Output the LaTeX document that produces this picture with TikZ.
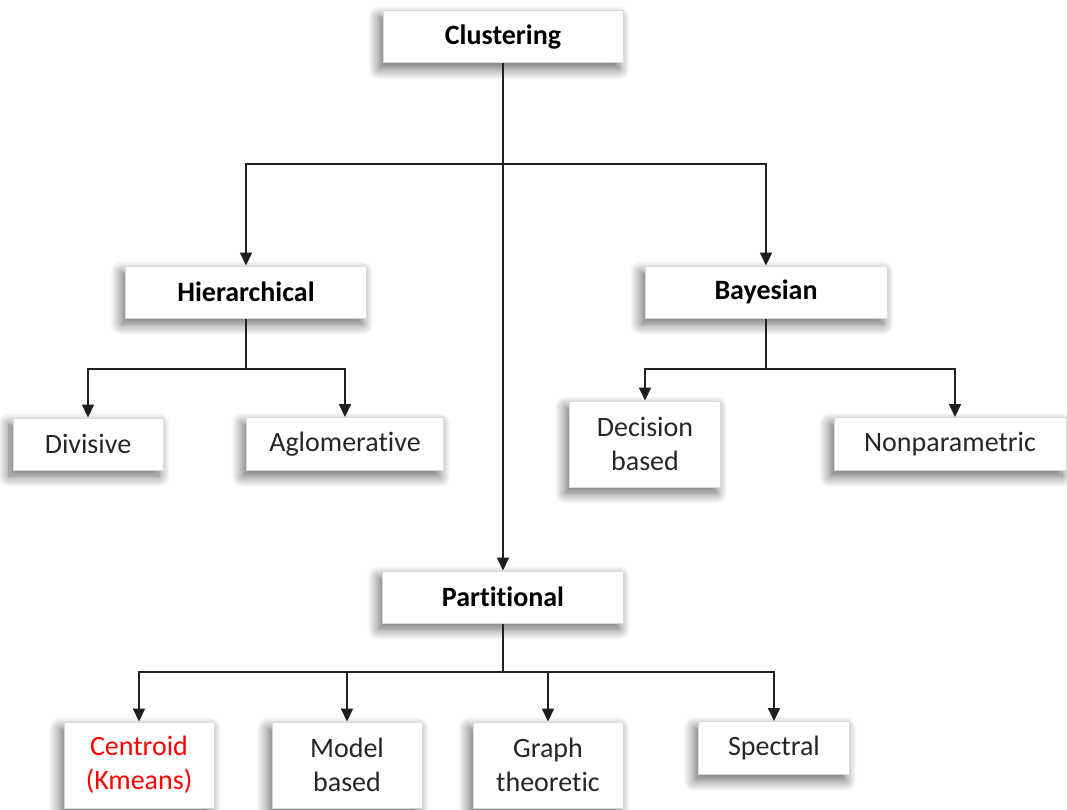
\documentclass[tikz,border=0pt]{standalone}
\usepackage{fontspec}
\setmainfont{Carlito}[Ligatures={NoCommon}]
\usetikzlibrary{arrows.meta,shadows.blur}

\tikzset{
  box/.style={draw=black!15, line width=1pt, fill=white, align=center,
    inner sep=0pt, text=black!85,
    font=\fontsize{28}{34}\selectfont,
    blur shadow={shadow xshift=-4pt, shadow yshift=-6pt,
      shadow blur radius=11pt, shadow blur steps=14, shadow opacity=60}},
  headbox/.style={box, font=\fontsize{28}{34}\selectfont\bfseries, text=black},
  wire/.style={draw=black!88, line width=2pt, line join=miter},
  feed/.style={wire, -{Triangle[width=12pt,length=13pt]}}
}

\begin{document}
\begin{tikzpicture}[x=1pt,y=-1pt]
  \useasboundingbox (0,0) rectangle (1067,810);

  % top level
  \node[headbox, minimum width=240pt, minimum height=52pt] (clus) at (503,37) {Clustering};

  % second level
  \node[headbox, minimum width=241pt, minimum height=52pt] (hier) at (246,292) {Hierarchical};
  \node[headbox, minimum width=242pt, minimum height=52pt] (bayes) at (766,292) {Bayesian};
  \node[headbox, minimum width=241pt, minimum height=52pt] (part) at (503,597) {Partitional};

  % hierarchical family
  \node[box, minimum width=150pt, minimum height=52pt] (div) at (88,444) {Divisive};
  \node[box, minimum width=197pt, minimum height=53pt] (aglo) at (345,444) {Aglomerative};

  % bayesian family
  \node[box, minimum width=151pt, minimum height=86pt] (dec) at (645,444) {Decision\\based};
  \node[box, minimum width=232pt, minimum height=53pt] (nonp) at (950,444) {Nonparametric};

  % partitional family
  \node[box, minimum width=150pt, minimum height=86pt, text=red] (cent) at (139,765) {Centroid\\(Kmeans)};
  \node[box, minimum width=150pt, minimum height=86pt] (model) at (347,765) {Model\\based};
  \node[box, minimum width=150pt, minimum height=86pt] (graph) at (548,765) {Graph\\theoretic};
  \node[box, minimum width=151pt, minimum height=53pt] (spec) at (774,748) {Spectral};

  % junction points of the tree
  \coordinate (j1) at (503,164);
  \coordinate (j2) at (246,369);
  \coordinate (j3) at (766,369);
  \coordinate (j4) at (503,672);

  % connectors
  \draw[wire] (clus.south) -- (j1);
  \draw[feed] (j1) -| (hier.north);
  \draw[feed] (j1) -| (bayes.north);
  \draw[feed] (j1) -- (part.north);

  \draw[wire] (hier.south) -- (j2);
  \draw[feed] (j2) -| (div.north);
  \draw[feed] (j2) -| (aglo.north);

  \draw[wire] (bayes.south) -- (j3);
  \draw[feed] (j3) -| (dec.north);
  \draw[feed] (j3) -| ([xshift=5pt]nonp.north);

  \draw[wire] (part.south) -- (j4);
  \draw[feed] (j4) -| (cent.north);
  \draw[feed] (j4) -| (model.north);
  \draw[feed] (j4) -| (graph.north);
  \draw[feed] (j4) -| (spec.north);
\end{tikzpicture}
\end{document}
